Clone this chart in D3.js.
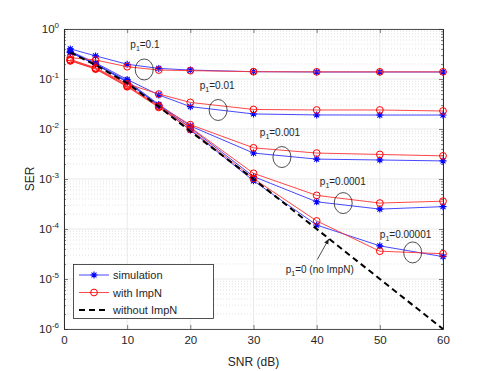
<!DOCTYPE html>
<html>
<head>
<meta charset="utf-8">
<script src="https://cdn.jsdelivr.net/npm/d3@7"></script>
<style>
body { margin: 0; background: #fff; }
text { font-family: "Liberation Sans", Arial, sans-serif; fill: #262626; }
</style>
</head>
<body>
<svg id="chart"></svg>
<script>
// chart data
var snr = [1, 5, 10, 15, 20, 30, 40, 50, 60];

var sim01 = [0.40, 0.29, 0.197, 0.163, 0.151, 0.140, 0.138, 0.138, 0.138];
var imp01 = [0.267, 0.24, 0.176, 0.151, 0.147, 0.140, 0.139, 0.139, 0.139];
var sim001 = [0.36, 0.21, 0.098, 0.048, 0.028, 0.020, 0.0191, 0.019, 0.019];
var imp001 = [0.245, 0.168, 0.08, 0.05, 0.034, 0.0246, 0.024, 0.024, 0.0229];
var sim0001 = [0.35, 0.2, 0.092, 0.031, 0.0115, 0.0033, 0.0025, 0.0024, 0.0023];
var imp0001 = [0.24, 0.163, 0.075, 0.029, 0.0122, 0.0042, 0.0033, 0.0031, 0.0029];
var sim00001 = [0.34, 0.2, 0.088, 0.03, 0.0105, 0.00112, 0.00035, 0.00025, 0.00028];
var imp00001 = [0.235, 0.16, 0.072, 0.028, 0.0108, 0.0013, 0.00047, 0.00033, 0.00036];
var sim000001 = [0.34, 0.195, 0.086, 0.029, 0.0095, 0.00092, 0.00012, 0.000046, 0.000028];
var imp000001 = [0.23, 0.158, 0.07, 0.027, 0.0098, 0.00102, 0.000145, 0.000036, 0.000032];
var noImp = [0.34, 0.19, 0.083, 0.028, 0.009, 0.001, 0.0001, 0.00001, 0.000001];

var xTicks = [0, 10, 20, 30, 40, 50, 60];
var yExps = [0, -1, -2, -3, -4, -5, -6];

var simSeries = [sim01, sim001, sim0001, sim00001, sim000001];
var impSeries = [imp01, imp001, imp0001, imp00001, imp000001];

// annotation labels: p1 value, label anchor (snr, ser), ellipse centre (snr, ser)
var pLabels = ['0.1', '0.01', '0.001', '0.0001', '0.00001'];
var labelAt = [[10.5, 0.42], [21.5, 0.063], [31, 0.0074], [40.5, 0.00076], [50, 0.000067]];
var ringAt = [[12.7, 0.155], [24.4, 0.024], [34.5, 0.00275], [44.2, 0.00033], [55.2, 0.000034]];

var width = 491,
	height = 371,
	plotL = 64, plotR = 443, plotT = 29, plotB = 329;

var xScale = d3.scaleLinear().domain([0, 60]).range([plotL, plotR]);
var yScale = d3.scaleLog().domain([1e-6, 1]).range([plotB, plotT]);

var svg = d3.select('#chart')
	.attr('width', width)
	.attr('height', height);

// minor grid (dotted) on y
var minor = [];
yExps.slice(1).forEach(function(e) {
	for (var k = 2; k <= 9; k++) minor.push(k * Math.pow(10, e));
});
var majors = yExps.map(e => Math.pow(10, e));

svg.append('g').selectAll('line')
	.data(minor).enter().append('line')
	.attr('x1', plotL).attr('x2', plotR)
	.attr('y1', d => yScale(d)).attr('y2', d => yScale(d))
	.attr('stroke', '#cfcfcf').attr('stroke-width', 0.6)
	.attr('stroke-dasharray', '1,2');

// major grid
svg.append('g').selectAll('line')
	.data(majors).enter().append('line')
	.attr('x1', plotL).attr('x2', plotR)
	.attr('y1', d => yScale(d)).attr('y2', d => yScale(d))
	.attr('stroke', '#e3e3e3').attr('stroke-width', 0.8);
svg.append('g').selectAll('line')
	.data(xTicks).enter().append('line')
	.attr('y1', plotT).attr('y2', plotB)
	.attr('x1', d => xScale(d)).attr('x2', d => xScale(d))
	.attr('stroke', '#e3e3e3').attr('stroke-width', 0.8);

// axes with inward ticks
var xAxis = d3.axisBottom(xScale).tickValues(xTicks).tickSize(-4).tickSizeOuter(0).tickPadding(7);
var gx = svg.append('g').attr('transform', 'translate(0,' + plotB + ')').call(xAxis);
gx.selectAll('text').style('font-size', '11.5px').attr('fill', '#262626');
svg.append('g').attr('transform', 'translate(0,' + plotT + ')')
	.call(d3.axisTop(xScale).tickValues(xTicks).tickSize(-4).tickSizeOuter(0).tickFormat(''));

svg.append('g').attr('transform', 'translate(' + plotL + ',0)')
	.call(d3.axisLeft(yScale).tickValues(minor).tickSize(-2).tickSizeOuter(0).tickFormat(''));
svg.append('g').attr('transform', 'translate(' + plotR + ',0)')
	.call(d3.axisRight(yScale).tickValues(minor).tickSize(-2).tickSizeOuter(0).tickFormat(''));
svg.append('g').attr('transform', 'translate(' + plotL + ',0)')
	.call(d3.axisLeft(yScale).tickValues(majors).tickSize(-4).tickSizeOuter(0).tickFormat(''));
svg.append('g').attr('transform', 'translate(' + plotR + ',0)')
	.call(d3.axisRight(yScale).tickValues(majors).tickSize(-4).tickSizeOuter(0).tickFormat(''));
svg.selectAll('.domain').attr('stroke', '#262626').attr('stroke-width', 0.8);
svg.selectAll('.tick line').attr('stroke', '#262626').attr('stroke-width', 0.6);

// y tick labels 10^n
var yl = svg.append('g').selectAll('text')
	.data(yExps).enter().append('text')
	.attr('x', plotL - 5)
	.attr('y', d => yScale(Math.pow(10, d)) + 4)
	.attr('text-anchor', 'end')
	.style('font-size', '11.5px');
yl.append('tspan').text('10');
yl.append('tspan').attr('dy', -5).style('font-size', '8px').text(d => d);

// axis titles
svg.append('text')
	.attr('x', (plotL + plotR) / 2)
	.attr('y', 366)
	.attr('text-anchor', 'middle')
	.style('font-size', '12px')
	.text('SNR (dB)');
svg.append('text')
	.attr('transform', 'rotate(-90)')
	.attr('x', -179)
	.attr('y', 34)
	.attr('text-anchor', 'middle')
	.style('font-size', '12px')
	.text('SER');

var line = d3.line()
	.x((d, i) => xScale(snr[i]))
	.y(d => yScale(d));

var plot = svg.append('g');

function starPath(r) {
	var p = '';
	for (var a = 0; a < 4; a++) {
		var t = a * Math.PI / 4;
		p += 'M' + (-r * Math.cos(t)) + ',' + (-r * Math.sin(t)) + 'L' + (r * Math.cos(t)) + ',' + (r * Math.sin(t));
	}
	return p;
}

simSeries.forEach(function(s) {
	plot.append('path').datum(s).attr('d', line)
		.attr('fill', 'none').attr('stroke', '#3333ff').attr('stroke-width', 0.9);
	plot.selectAll(null).data(s).enter().append('path')
		.attr('d', starPath(3.5))
		.attr('transform', (d, i) => 'translate(' + xScale(snr[i]) + ',' + yScale(d) + ')')
		.attr('stroke', '#0000ff').attr('stroke-width', 1.1);
});

impSeries.forEach(function(s) {
	plot.append('path').datum(s).attr('d', line)
		.attr('fill', 'none').attr('stroke', '#ff3333').attr('stroke-width', 0.9);
	plot.selectAll(null).data(s).enter().append('circle')
		.attr('cx', (d, i) => xScale(snr[i]))
		.attr('cy', d => yScale(d))
		.attr('r', 3.4)
		.attr('fill', 'none').attr('stroke', '#ff0000').attr('stroke-width', 1);
});

plot.append('path').datum(noImp).attr('d', line)
	.attr('fill', 'none').attr('stroke', '#000').attr('stroke-width', 2)
	.attr('stroke-dasharray', '6,4');

// annotations
var ann = svg.append('g');
pLabels.forEach(function(p, i) {
	var t = ann.append('text')
		.attr('x', xScale(labelAt[i][0]))
		.attr('y', yScale(labelAt[i][1]))
		.style('font-size', '10px');
	t.append('tspan').text('p');
	t.append('tspan').attr('dy', 3).style('font-size', '7px').text('1');
	t.append('tspan').attr('dy', -3).text('=' + p);
	ann.append('ellipse')
		.attr('cx', xScale(ringAt[i][0]))
		.attr('cy', yScale(ringAt[i][1]))
		.attr('rx', 9).attr('ry', 10.5)
		.attr('fill', 'none').attr('stroke', '#222').attr('stroke-width', 0.8);
});

var t0 = ann.append('text')
	.attr('x', xScale(35.1))
	.attr('y', yScale(0.0000132))
	.style('font-size', '10px');
t0.append('tspan').text('p');
t0.append('tspan').attr('dy', 3).style('font-size', '7px').text('1');
t0.append('tspan').attr('dy', -3).text('=0 (no ImpN)');

svg.append('defs').append('marker')
	.attr('id', 'arr').attr('viewBox', '0 0 10 10')
	.attr('refX', 9).attr('refY', 5)
	.attr('markerWidth', 7).attr('markerHeight', 7)
	.attr('orient', 'auto')
	.append('path').attr('d', 'M0,1L10,5L0,9z').attr('fill', '#222');
ann.append('line')
	.attr('x1', xScale(40.1)).attr('y1', yScale(0.0000245))
	.attr('x2', xScale(41.9)).attr('y2', yScale(0.0000625))
	.attr('stroke', '#222').attr('stroke-width', 0.8)
	.attr('marker-end', 'url(#arr)');

// legend
var lg = svg.append('g');
lg.append('rect')
	.attr('x', 73.5).attr('y', 264.5).attr('width', 140).attr('height', 54)
	.attr('fill', '#fff').attr('stroke', '#262626').attr('stroke-width', 0.8);
var items = ['simulation', 'with ImpN', 'without ImpN'];
items.forEach(function(name, i) {
	var y = 275 + i * 17.5;
	var g = lg.append('g');
	if (i === 0) {
		g.append('line').attr('x1', 79).attr('x2', 109).attr('y1', y).attr('y2', y)
			.attr('stroke', '#3333ff').attr('stroke-width', 0.9);
		g.append('path').attr('d', starPath(3.5)).attr('transform', 'translate(94,' + y + ')')
			.attr('stroke', '#0000ff').attr('stroke-width', 1.1);
	} else if (i === 1) {
		g.append('line').attr('x1', 79).attr('x2', 109).attr('y1', y).attr('y2', y)
			.attr('stroke', '#ff3333').attr('stroke-width', 0.9);
		g.append('circle').attr('cx', 94).attr('cy', y).attr('r', 3.4)
			.attr('fill', 'none').attr('stroke', '#ff0000');
	} else {
		g.append('line').attr('x1', 79).attr('x2', 109).attr('y1', y).attr('y2', y)
			.attr('stroke', '#000').attr('stroke-width', 2).attr('stroke-dasharray', '6,4');
	}
	g.append('text').attr('x', 113).attr('y', y + 4)
		.style('font-size', '11px').text(name);
});
</script>
</body>
</html>
